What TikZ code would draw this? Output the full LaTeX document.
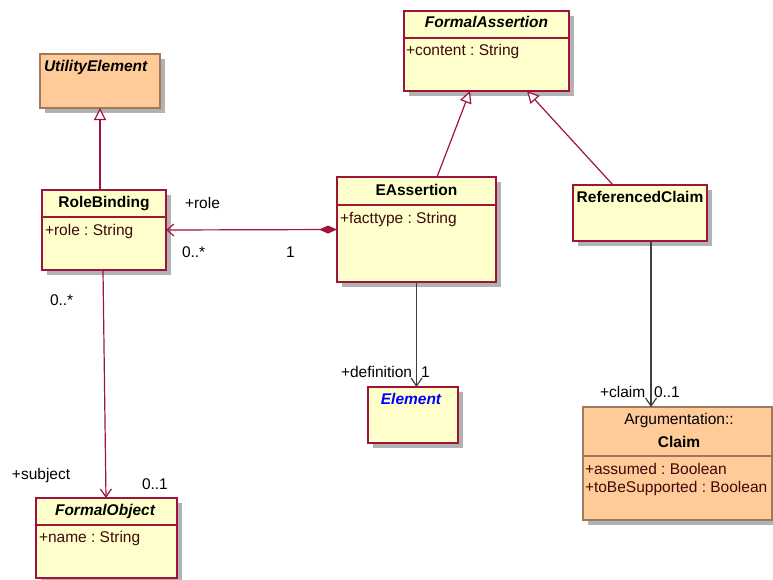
\documentclass[tikz,border=0pt]{standalone}
\usepackage{fontspec}
\setmainfont{Liberation Sans}
\usetikzlibrary{arrows.meta,shadows,calc}
\definecolor{yfill}{RGB}{255,255,204}
\definecolor{yline}{RGB}{160,20,60}
\definecolor{ofill}{RGB}{255,204,153}
\definecolor{oline}{RGB}{160,120,90}
\definecolor{shade}{RGB}{178,178,178}
\definecolor{attrc}{RGB}{60,10,10}
\definecolor{gline}{RGB}{64,64,64}
\newcommand{\fs}{\fontsize{15.5}{18}\selectfont\frenchspacing}
\begin{document}
\begin{tikzpicture}[x=1pt,y=-1pt,
  every node/.style={inner sep=0pt, outer sep=0pt},
  box/.style={draw, rectangle, line width=1.2pt, anchor=north west,
    drop shadow={shadow xshift=5pt, shadow yshift=-5pt, fill=shade, opacity=1}},
  ybox/.style={box, draw=yline, fill=yfill},
  obox/.style={box, draw=oline, fill=ofill},
  ysep/.style={draw=yline, line width=1.2pt},
  osep/.style={draw=oline, line width=1.2pt},
  title/.style={font=\fs\bfseries, anchor=base},
  atitle/.style={font=\fs\bfseries\itshape, anchor=base},
  attr/.style={font=\fs, text=attrc, anchor=base west},
  lbl/.style={font=\fs, anchor=base west},
  gen/.style={draw=yline, line width=1.2pt, -{Triangle[fill=white, length=12pt, width=12pt]}},
  comp/.style={draw=yline, line width=1.2pt, {Diamond[length=18pt, width=8pt]}-{Straight Barb[length=7pt, width=12pt]}},
  gnav/.style={draw=gline, line width=1.2pt, -{Straight Barb[length=8pt, width=11pt]}},
  ynav/.style={draw=yline, line width=1.2pt, -{Straight Barb[length=8pt, width=11pt]}}
]
\useasboundingbox (0,0) rectangle (773,579);

% boxes
\node[obox, minimum width=120pt, minimum height=54pt] (ue) at (40,54) {};
\node[ybox, minimum width=124pt, minimum height=80pt] (rb) at (42,190) {};
\node[ybox, minimum width=165pt, minimum height=80pt] (fa) at (404,11) {};
\node[ybox, minimum width=159pt, minimum height=105pt] (ea) at (337,177) {};
\node[ybox, minimum width=134pt, minimum height=56pt] (rc) at (573,185) {};
\node[ybox, minimum width=90pt, minimum height=56pt] (el) at (368,387) {};
\node[obox, minimum width=189pt, minimum height=113pt] (cl) at (583,407) {};
\node[ybox, minimum width=141pt, minimum height=80pt] (fo) at (36,498) {};

% compartment separators
\path[ysep] ($(rb.north west)+(0,27)$) -- ($(rb.north east)+(0,27)$);
\path[ysep] ($(fa.north west)+(0,27)$) -- ($(fa.north east)+(0,27)$);
\path[ysep] ($(ea.north west)+(0,28)$) -- ($(ea.north east)+(0,28)$);
\path[osep] ($(cl.north west)+(0,49)$) -- ($(cl.north east)+(0,49)$);
\path[ysep] ($(fo.north west)+(0,27)$) -- ($(fo.north east)+(0,27)$);

% texts in boxes
\node[atitle, anchor=base west] (ueT) at (44,71) {UtilityElement};
\node[title] (rbT) at (104,207) {RoleBinding};
\node[attr] (rbA) at (45,235) {+role : String};
\node[atitle] (faT) at (486.5,27) {FormalAssertion};
\node[attr] (faA) at (406,55) {+content : String};
\node[title] (eaT) at (416.5,195) {EAssertion};
\node[attr] (eaA) at (340,223) {+facttype : String};
\node[title] (rcT) at (640,202) {ReferencedClaim};
\node[atitle, text=blue] (elT) at (411,404) {Element};
\node[font=\fs, anchor=base] (clP) at (679,424) {Argumentation::};
\node[title] (clT) at (679,447) {Claim};
\node[attr] (clA1) at (585,474) {+assumed : Boolean};
\node[attr] (clA2) at (585,492) {+toBeSupported : Boolean};
\node[atitle] (foT) at (105,515) {FormalObject};
\node[attr] (foA) at (39,542) {+name : String};

% connectors
\path[gen] (rb.north -| ue.south) -- (ue.south);
\path[gen] ($(ea.north west)+(100,0)$) -- ($(fa.south west)+(66,0)$);
\path[gen] ($(rc.north west)+(40,0)$) -- ($(fa.south west)+(123,0)$);
\path[comp] (ea.west) -- (rb.east);
\path[ynav] ($(rb.south west)+(61,0)$) -- ($(fo.north west)+(70,0)$);
\path[gnav] (ea.south) -- (ea.south |- el.north);
\path[gnav] ($(rc.south west)+(78,0)$) -- ($(cl.north west)+(68,0)$);

% association end labels
\node[lbl] (l1) at (185,208) {+role};
\node[lbl] (l2) at (182,257) {0..*};
\node[lbl] (l3) at (286,257) {1};
\node[lbl] (l4) at (50,305) {0..*};
\node[lbl] (l5) at (12,479) {+subject};
\node[lbl] (l6) at (142,489) {0..1};
\node[lbl] (l7) at (341,377) {+definition};
\node[lbl] (l8) at (421,377) {1};
\node[lbl] (l9) at (600,397) {+claim};
\node[lbl] (l10) at (654,397) {0..1};
\end{tikzpicture}
\end{document}
